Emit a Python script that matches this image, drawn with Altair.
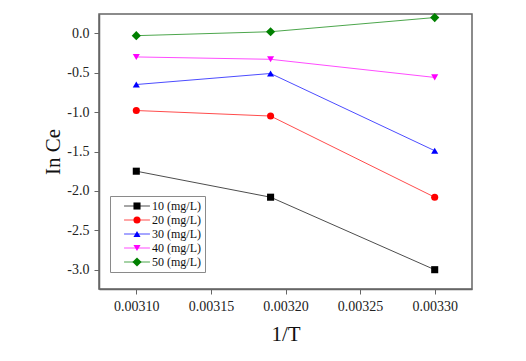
import altair as alt
import pandas as pd

inv_t = [0.00310, 0.00319, 0.00330]
series = ["10 (mg/L)", "20 (mg/L)", "30 (mg/L)", "40 (mg/L)", "50 (mg/L)"]
ln_ce_10 = [-1.75, -2.08, -3.00]
ln_ce_20 = [-0.98, -1.05, -2.08]
ln_ce_30 = [-0.65, -0.51, -1.49]
ln_ce_40 = [-0.30, -0.33, -0.56]
ln_ce_50 = [-0.03, 0.02, 0.20]
marker_colors = ["#000000", "#ff0000", "#0000ff", "#ff00ff", "#008000"]
marker_shapes = ["square", "circle", "triangle-up", "triangle-down", "M0,-1.3L1.3,0L0,1.3L-1.3,0Z"]
x_ticks = [0.00310, 0.00315, 0.00320, 0.00325, 0.00330]
y_ticks = [-3.0, -2.5, -2.0, -1.5, -1.0, -0.5, 0.0]

all_vals = [ln_ce_10, ln_ce_20, ln_ce_30, ln_ce_40, ln_ce_50]
rows = []
for name, vals in zip(series, all_vals):
    for xv, yv in zip(inv_t, vals):
        rows.append({"series": name, "line_series": name, "invT": xv, "lnCe": yv})
df = pd.DataFrame(rows)

FONT = "Liberation Serif, Times New Roman, serif"

x_enc = alt.X(
    "invT:Q",
    title="1/T",
    scale=alt.Scale(domain=[0.003075, 0.003325], nice=False, zero=False),
    axis=alt.Axis(values=x_ticks, format=".5f", titleY=51, titleBaseline="alphabetic"),
)
y_enc = alt.Y(
    "lnCe:Q",
    title="In Ce",
    scale=alt.Scale(domain=[-3.245, 0.245], nice=False, zero=False),
    axis=alt.Axis(
        values=y_ticks,
        labelExpr="(datum.value < 0 ? '-' : '') + format(abs(datum.value), '.1f')",
        titleX=-40,
        titleBaseline="alphabetic",
        titleAngle=270,
        titleAlign="center",
    ),
)

legend_common = dict(
    orient="none",
    legendX=11,
    legendY=182,
    title=None,
    padding=4,
    rowPadding=2,
    labelFont=FONT,
    labelFontSize=12,
    labelColor="#111111",
    symbolOffset=17,
    labelOffset=9,
)

line_legend = alt.Legend(
    symbolType="M-3.7,0L3.7,0",
    symbolSize=49,
    symbolStrokeWidth=1,
    symbolOpacity=0.7,
    strokeColor="#8a8a8a",
    **legend_common,
)
point_legend = alt.Legend(
    symbolSize=50,
    symbolStrokeWidth=0,
    labelOpacity=0,
    **legend_common,
)

lines = alt.Chart(df).mark_line(strokeWidth=1, opacity=0.7).encode(
    x=x_enc,
    y=y_enc,
    stroke=alt.Stroke("line_series:N", scale=alt.Scale(range=marker_colors), legend=line_legend),
    detail="line_series:N",
)

points = alt.Chart(df).mark_point(filled=True, opacity=1, size=50).encode(
    x=x_enc,
    y=y_enc,
    color=alt.Color("series:N", scale=alt.Scale(domain=series, range=marker_colors), legend=point_legend),
    shape=alt.Shape("series:N", scale=alt.Scale(domain=series, range=marker_shapes), legend=point_legend),
)

chart = (
    alt.layer(lines, points)
    .properties(
        width=373,
        height=275,
        autosize=alt.AutoSizeParams(type="none"),
        padding={"left": 91, "top": 6, "right": 46, "bottom": 64},
        background="white",
    )
    .configure_view(stroke="#666666", strokeWidth=1.5)
    .configure_axis(
        grid=False,
        domainColor="#666666",
        domainWidth=1.5,
        tickColor="#666666",
        tickSize=5,
        tickWidth=1,
        labelFont=FONT,
        labelFontSize=14,
        labelColor="#222222",
        labelPadding=5,
        titleFont=FONT,
        titleFontSize=21,
        titleFontWeight="normal",
        titleColor="#111111",
    )
)

chart.save("out.html", embed_options={"renderer": "svg", "actions": False})
